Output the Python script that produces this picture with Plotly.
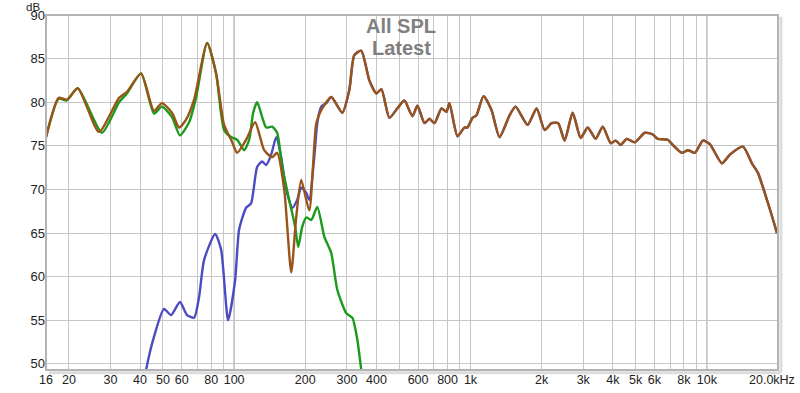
import plotly.graph_objects as go

# ---- data (frequency in Hz, level in dB) ----
sub_freq = [40.0, 42.4, 45.8, 50.5, 54.1, 59.0, 63.2, 67.7, 71.1, 74.6, 83.1, 88.1, 94.3, 101, 105,
            112.4, 118, 125.2, 131.4, 136.6, 143.5, 150.7, 158.2, 166.1, 176.1, 184.9, 192.2,
            201.9, 207.9, 218.3, 224.8, 233.7, 245.5]
sub_db = [45.0, 49.3, 53.1, 56.3, 55.6, 57.1, 55.6, 55.3, 57.7, 61.9, 64.9, 63.1, 55.0, 59.6, 65.4,
          67.9, 68.4, 72.6, 73.2, 72.8, 74.0, 76.0, 73.7, 70.0, 67.9, 68.8, 70.2,
          69.6, 68.8, 73.7, 77.6, 79.5, 79.9]

main_freq = [16.0, 18.1, 19.6, 21.8, 27.6, 32.6, 35.2, 40.4, 45.8, 49.5, 54.6, 59.0, 64.5, 69.0,
             76.9, 83.9, 90.7, 97.1, 103, 110.2, 115.8, 120.4, 125.2, 131.4, 136.6, 144.9, 152.1,
             159.7, 171, 181.3, 186.7, 194.1, 201.9, 212, 224.8, 240.7, 257.6, 273.2, 298.3,
             316.2, 332, 345.2, 365]
main_db = [76.0, 80.4, 80.2, 81.6, 76.5, 80.0, 81.0, 83.3, 78.7, 79.5, 78.3, 76.2, 77.7, 80.5,
           86.8, 83.3, 76.8, 76.0, 75.7, 74.5, 75.7, 78.8, 80.0, 78.3, 77.1, 77.2, 76.5,
           72.6, 68.8, 65.7, 63.4, 65.7, 66.8, 66.5, 68.0, 64.6, 62.7, 58.5, 55.8,
           55.3, 52.8, 49.3, 45.0]

sum_freq = [16.0, 18.1, 19.6, 21.8, 26.8, 32.6, 35.2, 40.4, 45.8, 49.5, 54.6, 58.5, 62.6, 67.7,
            76.9, 83.9, 90.7, 97.5, 103, 112.4, 122.7, 134, 144.9, 152.1, 162.9, 174.4, 183.1,
            192.2, 207.9, 222.6, 233.7, 257.6, 286.8, 307.1, 322.5, 345.2, 373.3, 399.8, 419.8,
            453.8, 490.6, 525.2, 567.9, 596.3, 638.6, 670.6, 704.1, 753.8, 791.4, 814.7, 881,
            943, 971, 1020, 1060, 1135, 1227, 1327, 1463, 1551, 1744, 1905, 2059, 2204, 2350,
            2502, 2705, 2926, 3132, 3386, 3626, 3920, 4116, 4322, 4581, 4954, 5462, 5905, 6201,
            6836, 7177, 7838, 8310, 8895, 9618, 10297, 11580, 12520, 14210, 15510, 16450, 18490,
            19800]
sum_db = [76.0, 80.5, 80.3, 81.6, 76.6, 80.5, 81.2, 83.3, 79.0, 79.9, 78.8, 77.1, 78.0, 80.3,
          86.8, 83.3, 77.4, 75.6, 74.2, 75.7, 77.7, 74.5, 73.7, 74.2, 70.0, 60.5, 66.8,
          71.1, 67.6, 77.6, 79.1, 80.6, 78.8, 81.4, 85.4, 85.9, 82.5, 81.0, 81.5,
          78.2, 79.3, 80.2, 78.4, 79.6, 77.6, 78.1, 77.6, 79.3, 78.9, 79.9, 76.1,
          77.1, 77.1, 78.2, 78.5, 80.7, 79.1, 76.0, 78.5, 79.5, 77.4, 79.3, 76.8, 77.6, 77.6,
          75.6, 78.8, 75.9, 77.1, 75.8, 77.2, 75.3, 75.6, 75.1, 75.8, 75.4, 76.5, 76.3, 75.8,
          75.7, 75.1, 74.2, 74.5, 74.2, 75.6, 75.2, 73.0, 74.0, 74.9, 73.0, 71.9, 67.7,
          65.0]

# blue trace merges with the summed response above ~250 Hz
sub_upper_start = 257.6

tick_vals = [16, 20, 30, 40, 50, 60, 70, 80, 90, 100, 200, 300, 400, 500, 600, 700, 800, 900,
             1000, 2000, 3000, 4000, 5000, 6000, 7000, 8000, 9000, 10000, 20000]
tick_text = ["16", "20", "30", "40", "50", "60", "", "80", "", "100", "200", "300", "400", "",
             "600", "", "800", "", "1k", "2k", "3k", "4k", "5k", "6k", "", "8k", "", "10k", ""]
last_tick_label = "20.0kHz"
decade_lines = [100, 1000, 10000]
y_ticks = [50, 55, 60, 65, 70, 75, 80, 85, 90]

blue_f = sub_freq + [f for f in sum_freq if f >= sub_upper_start]
blue_d = sub_db + [d for f, d in zip(sum_freq, sum_db) if f >= sub_upper_start]

fig = go.Figure()
line_kw = dict(width=2.4, shape="spline", smoothing=0.6)
fig.add_trace(go.Scatter(x=blue_f, y=blue_d, mode="lines",
                         line=dict(color="#4b4bc4", **line_kw), hoverinfo="skip"))
fig.add_trace(go.Scatter(x=main_freq, y=main_db, mode="lines",
                         line=dict(color="#1c9a1c", **line_kw), hoverinfo="skip"))
fig.add_trace(go.Scatter(x=sum_freq, y=sum_db, mode="lines",
                         line=dict(color="#9a5418", **line_kw), hoverinfo="skip"))

shapes = []
for v in decade_lines:
    shapes.append(dict(type="line", xref="x", yref="paper", x0=v, x1=v, y0=0, y1=1,
                       line=dict(color="#8a8a8a", width=1), layer="below"))
# frame with shadow
shapes.append(dict(type="line", xref="paper", yref="paper", x0=1.004, x1=1.004, y0=-0.008, y1=0.995,
                   line=dict(color="#dcdcdc", width=3)))
shapes.append(dict(type="line", xref="paper", yref="paper", x0=0.004, x1=1.004, y0=-0.008, y1=-0.008,
                   line=dict(color="#dcdcdc", width=3)))
shapes.append(dict(type="rect", xref="paper", yref="paper", x0=0, x1=1, y0=0, y1=1,
                   line=dict(color="#b4b4b4", width=2)))

fig.update_layout(
    width=800, height=393,
    margin=dict(l=46, r=22, t=15, b=23, autoexpand=False),
    paper_bgcolor="white", plot_bgcolor="white",
    showlegend=False,
    font=dict(family="Liberation Sans, Arial, sans-serif", size=12.5, color="#222222"),
    xaxis=dict(type="log", range=[1.2041, 4.3010], tickvals=tick_vals, ticktext=tick_text,
               showgrid=True, gridcolor="#c6c6c6", gridwidth=1, zeroline=False,
               ticks="", showline=False, tickfont=dict(size=12.5), automargin=False,
               ticklabeloverflow="allow"),
    yaxis=dict(range=[49.3, 90], tickvals=y_ticks, showgrid=True, gridcolor="#c6c6c6",
               gridwidth=1, zeroline=False, ticks="", showline=False, tickfont=dict(size=13),
               automargin=False, ticklabeloverflow="allow"),
    shapes=shapes,
    annotations=[
        dict(text="<b>All SPL</b>", xref="paper", yref="paper", x=0.485, y=1.0,
             xanchor="center", yanchor="middle", showarrow=False, yshift=-11,
             font=dict(size=20, color="#808080")),
        dict(text="<b>Latest</b>", xref="paper", yref="paper", x=0.485, y=1.0,
             xanchor="center", yanchor="middle", showarrow=False, yshift=-33,
             font=dict(size=20, color="#808080")),
        dict(text="dB", xref="paper", yref="paper", x=-0.006, y=1.0, xanchor="right",
             yanchor="top", showarrow=False, font=dict(size=11.5, color="#222222"),
             yshift=16),
        dict(text=last_tick_label, xref="paper", yref="paper", x=1.0, y=0,
             xanchor="center", yanchor="middle", showarrow=False, xshift=-6, yshift=-10,
             font=dict(size=12.5, color="#222222")),
    ],
)

fig.write_html("out.html", config={"displayModeBar": False},
               post_script="document.body.style.margin='0';document.body.style.overflow='hidden';")
